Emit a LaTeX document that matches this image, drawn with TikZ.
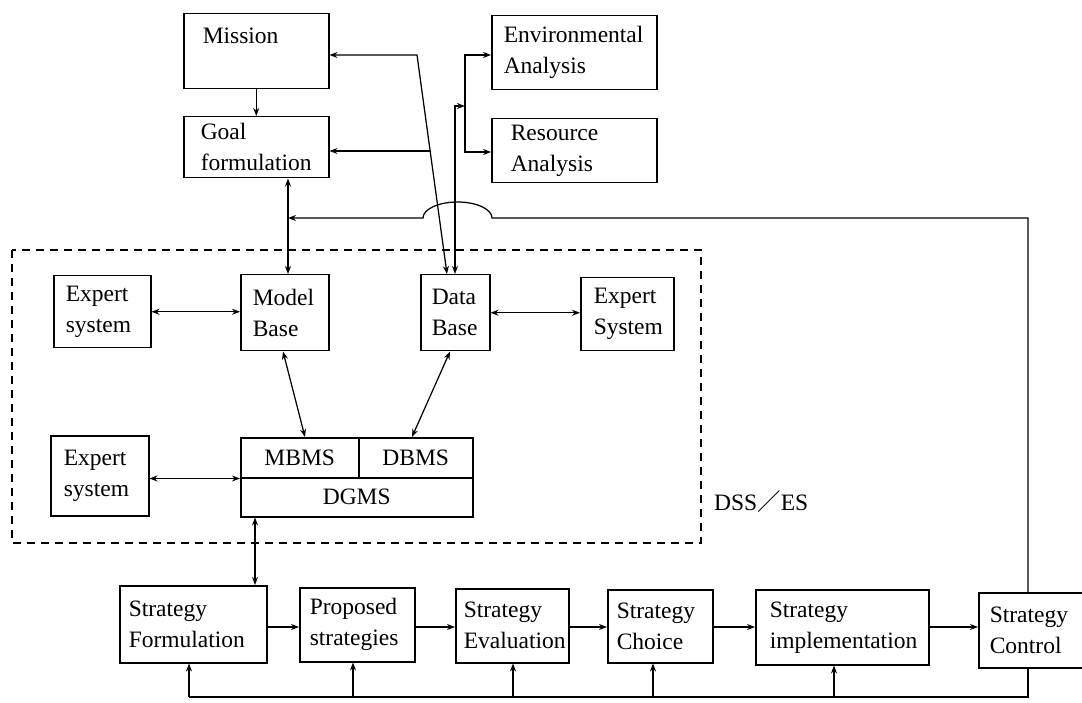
\documentclass[tikz,border=0pt]{standalone}
\usepackage{fontspec}
\setmainfont{Liberation Serif}
\newfontfamily\cjkfont{Noto Sans CJK JP}
\usetikzlibrary{arrows.meta}
\tikzset{
  box/.style={draw, line width=1.5pt, anchor=north west, inner sep=0pt, align=left,
              font=\fontsize{23.5}{31}\selectfont},
  cbox/.style={box, align=center},
  con/.style={line width=1.25pt},
  arr/.style={con, -{Stealth[length=8pt,width=6pt]}},
  darr/.style={con, {Stealth[length=8pt,width=6pt]}-{Stealth[length=8pt,width=6pt]}},
  group/.style={line width=1.3pt, dash pattern=on 8pt off 6pt},
}
\newcommand\mkbox[8]{%
  \pgfmathsetmacro\bw{#5-#3}%
  \pgfmathsetmacro\bh{#6-#4}%
  \pgfmathsetmacro\tw{#5-#3-2*#7}%
  \node[#1, minimum width=\bw pt, minimum height=\bh pt, text width=\tw pt] (#2) at (#3,#4) {#8};}
\begin{document}
\begin{tikzpicture}[x=1pt,y=-1pt]
\useasboundingbox (0,0) rectangle (1082,703);

% dashed DSS/ES group
\draw[group] (12,250) rectangle (701,543);
\node[font=\fontsize{23.5}{28}\selectfont, anchor=west, inner sep=0pt] (dsslabel) at (714,502) {DSS{\cjkfont ／}ES};

% boxes
\mkbox{box}{mission}{183}{13}{328}{88}{19}{Mission\\~}
\mkbox{box}{goal}{183}{116}{328}{177}{17}{Goal\\formulation}
\mkbox{box}{env}{491}{15}{656}{89}{12}{Environmental\\Analysis}
\mkbox{box}{res}{491}{118}{656}{182}{19}{Resource\\Analysis}
\mkbox{box}{es1}{53}{275}{150}{347}{12}{Expert\\system}
\mkbox{box}{mb}{240}{274}{328}{350}{12}{Model\\Base}
\mkbox{box}{db}{420}{274}{489}{350}{11}{Data\\Base}
\mkbox{box}{es2}{580}{277}{673}{350}{13}{Expert\\System}
\mkbox{box}{es3}{50}{435}{148}{515}{13}{Expert\\system}
\mkbox{cbox}{mbms}{240}{437}{358}{477}{4}{MBMS}
\mkbox{cbox}{dbms}{358}{437}{472}{477}{4}{DBMS}
\mkbox{cbox}{dgms}{240}{477}{472}{516}{4}{DGMS}
\mkbox{box}{sf}{119}{585}{266}{662}{9}{Strategy\\Formulation}
\mkbox{box}{ps}{299}{587}{414}{661}{10}{Proposed\\strategies}
\mkbox{box}{se}{455}{588}{568}{662}{8}{Strategy\\Evaluation}
\mkbox{box}{sc}{607}{589}{712}{662}{9}{Strategy\\Choice}
\mkbox{box}{si}{755}{589}{928}{664}{14}{Strategy\\implementation}
\mkbox{box}{sctl}{978}{592}{1084}{667}{11}{Strategy\\Control}

% helper coordinates
\coordinate (c1) at (417,55);
\coordinate (c2) at (430.2,151);
\coordinate (dbx1) at (447,0);
\coordinate (dbx2) at (455,0);
\coordinate (c3) at (455,106);
\coordinate (c4) at (465,106);
\coordinate (c5) at (465,55);
\coordinate (c6) at (465,152);
\coordinate (jx) at (288,0);
\coordinate (yt) at (0,218);
\coordinate (fbx) at (1028,0);
\coordinate (bumpR) at (492,218);
\coordinate (mbx) at (283,0);
\coordinate (mbmsx) at (305,0);
\coordinate (dbx3) at (450,0);
\coordinate (dbmsx) at (412,0);
\coordinate (dgx) at (255,0);
\coordinate (ya) at (0,627);
\coordinate (b1) at (189,697);
\coordinate (b2) at (353,697);
\coordinate (b3) at (513,697);
\coordinate (b4) at (653,697);
\coordinate (b5) at (834,697);
\coordinate (b6) at (1028,697);

% top area connectors
\draw[arr] (mission) -- (goal);
\draw[darr] (mission.east |- c1) -- (c1) -- (db.north -| dbx1);
\draw[arr] (c2) -- (goal.east |- c2);
\draw[darr] (db.north -| dbx2) -- (c3) -- (c4);
\draw[darr] (env.west |- c5) -- (c5) -- (c6) -- (res.west |- c6);
\draw[darr] (goal.south -| jx) -- (mb.north -| jx);

% feedback from strategy control to the top
\draw[arr] (sctl.north -| fbx) -- (fbx |- yt) -- (bumpR)
  arc[start angle=0, end angle=-180, x radius=34.5, y radius=16] -- (jx |- yt);

% inside the DSS/ES group
\draw[darr] (es1.east) -- (es1.east -| mb.west);
\draw[darr] (db.east) -- (db.east -| es2.west);
\draw[darr] (mb.south -| mbx) -- (mbms.north -| mbmsx);
\draw[darr] (db.south -| dbx3) -- (dbms.north -| dbmsx);
\draw[darr] (es3.east |- mbms.south) -- (mbms.south west);
\draw[darr] (dgms.south -| dgx) -- (sf.north -| dgx);

% strategy chain
\draw[arr] (sf.east |- ya) -- (ps.west |- ya);
\draw[arr] (ps.east |- ya) -- (se.west |- ya);
\draw[arr] (se.east |- ya) -- (sc.west |- ya);
\draw[arr] (sc.east |- ya) -- (si.west |- ya);
\draw[arr] (si.east |- ya) -- (sctl.west |- ya);

% bottom feedback
\draw[con] (sctl.south -| b6) -- (b6) -- (b1);
\draw[arr] (b1) -- (sf.south -| b1);
\draw[arr] (b2) -- (ps.south -| b2);
\draw[arr] (b3) -- (se.south -| b3);
\draw[arr] (b4) -- (sc.south -| b4);
\draw[arr] (b5) -- (si.south -| b5);
\end{tikzpicture}
\end{document}
